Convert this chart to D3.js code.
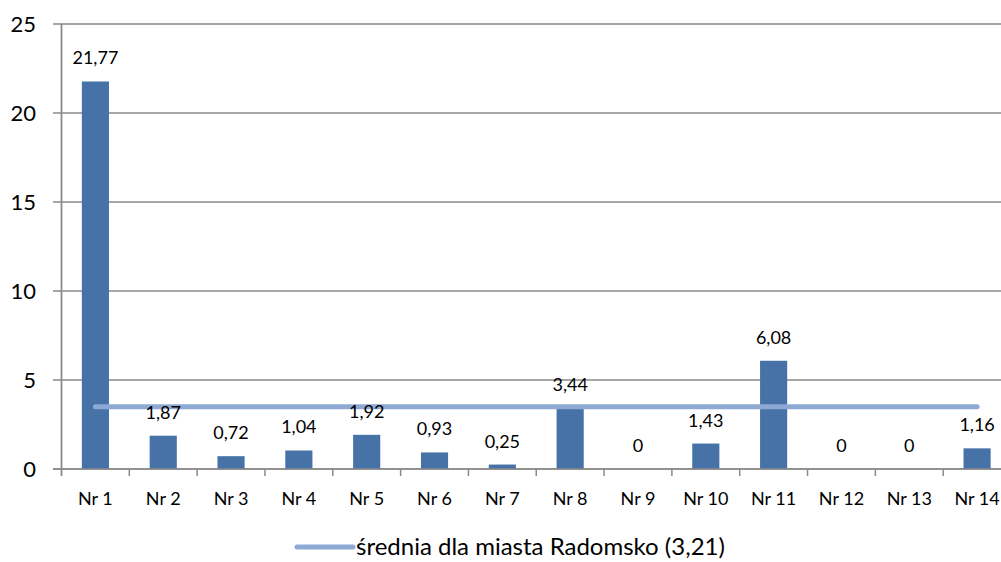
<!DOCTYPE html>
<html>
<head>
<meta charset="utf-8">
<script src="https://cdn.jsdelivr.net/npm/d3@7"></script>
<style>
  body { margin: 0; background: #fff; }
  text { font-family: Lato, "Open Sans", sans-serif; fill: #000; }
</style>
</head>
<body>
<div id="chart"></div>
<script>
// data
var categories = ["Nr 1", "Nr 2", "Nr 3", "Nr 4", "Nr 5", "Nr 6", "Nr 7",
                  "Nr 8", "Nr 9", "Nr 10", "Nr 11", "Nr 12", "Nr 13", "Nr 14"];
var values = [21.77, 1.87, 0.72, 1.04, 1.92, 0.93, 0.25, 3.44, 0, 1.43, 6.08, 0, 0, 1.16];
var avgLevel = 3.5;   // where the line is drawn in the picture
var legendLabel = "średnia dla miasta Radomsko (3,21)";
var yTicks = [0, 5, 10, 15, 20, 25];

var svgWidth = 1001;
var svgHeight = 562;

var svg = d3.select("#chart")
  .append("svg")
  .attr("width", svgWidth)
  .attr("height", svgHeight);

var x = d3.scaleBand()
  .domain(categories)
  .range([61.5, 1011])
  .padding(0);

var y = d3.scaleLinear()
  .domain([0, 25])
  .range([469, 24]);

var barW = x.bandwidth() * 0.4;
var fmt = function(v) { return String(v).replace(".", ","); };

// gridlines
svg.append("g")
  .selectAll("line")
  .data(yTicks)
  .enter()
  .append("line")
  .attr("x1", 53)
  .attr("x2", svgWidth)
  .attr("y1", d => y(d))
  .attr("y2", d => y(d))
  .attr("stroke", "#8a8a8a")
  .attr("stroke-width", 1.3);

// y tick labels
svg.append("g")
  .selectAll("text")
  .data(yTicks)
  .enter()
  .append("text")
  .attr("x", 36)
  .attr("y", d => y(d))
  .attr("dy", "0.35em")
  .attr("text-anchor", "end")
  .attr("font-size", "22px")
  .text(d => d);

// bars
svg.append("g")
  .selectAll("rect")
  .data(values)
  .enter()
  .append("rect")
  .attr("x", (d, i) => x(categories[i]) + x.bandwidth() / 2 - barW / 2)
  .attr("y", d => y(d))
  .attr("width", barW)
  .attr("height", d => y(0) - y(d))
  .attr("fill", "#4672a8");

// x axis
var bottomAxis = d3.axisBottom(x).tickSize(0).tickPadding(0).tickFormat("");
var xAxis = svg.append("g")
  .attr("transform", `translate(0, ${y(0)})`)
  .call(bottomAxis);
xAxis.select(".domain").remove();

svg.append("line")
  .attr("x1", 53).attr("x2", svgWidth)
  .attr("y1", y(0)).attr("y2", y(0))
  .attr("stroke", "#8a8a8a").attr("stroke-width", 1.5);

svg.append("line")
  .attr("x1", 61.5).attr("x2", 61.5)
  .attr("y1", y(25)).attr("y2", y(0) + 7)
  .attr("stroke", "#8a8a8a").attr("stroke-width", 1.8);

// tick marks between categories
svg.append("g")
  .selectAll("line")
  .data(categories.slice(1))
  .enter()
  .append("line")
  .attr("x1", d => x(d))
  .attr("x2", d => x(d))
  .attr("y1", y(0))
  .attr("y2", y(0) + 7)
  .attr("stroke", "#8a8a8a")
  .attr("stroke-width", 1.5);

// category labels
svg.append("g")
  .selectAll("text")
  .data(categories)
  .enter()
  .append("text")
  .attr("x", d => x(d) + x.bandwidth() / 2)
  .attr("y", 505)
  .attr("text-anchor", "middle")
  .attr("font-size", "18px")
  .text(d => d);

// average line
svg.append("line")
  .attr("x1", x(categories[0]) + x.bandwidth() / 2)
  .attr("x2", x(categories[categories.length - 1]) + x.bandwidth() / 2)
  .attr("y1", y(avgLevel))
  .attr("y2", y(avgLevel))
  .attr("stroke", "#8ea9d3")
  .attr("stroke-width", 5)
  .attr("stroke-linecap", "round");

// value labels
svg.append("g")
  .selectAll("text")
  .data(values)
  .enter()
  .append("text")
  .attr("x", (d, i) => x(categories[i]) + x.bandwidth() / 2)
  .attr("y", d => y(d) - 17)
  .attr("text-anchor", "middle")
  .attr("font-size", "18px")
  .text(d => fmt(d));

// legend
svg.append("line")
  .attr("x1", 297).attr("x2", 353)
  .attr("y1", 547).attr("y2", 547)
  .attr("stroke", "#8ea9d3")
  .attr("stroke-width", 5)
  .attr("stroke-linecap", "round");

svg.append("text")
  .attr("x", 356)
  .attr("y", 547)
  .attr("dy", "0.35em")
  .attr("font-size", "24px")
  .text(legendLabel);
</script>
</body>
</html>
